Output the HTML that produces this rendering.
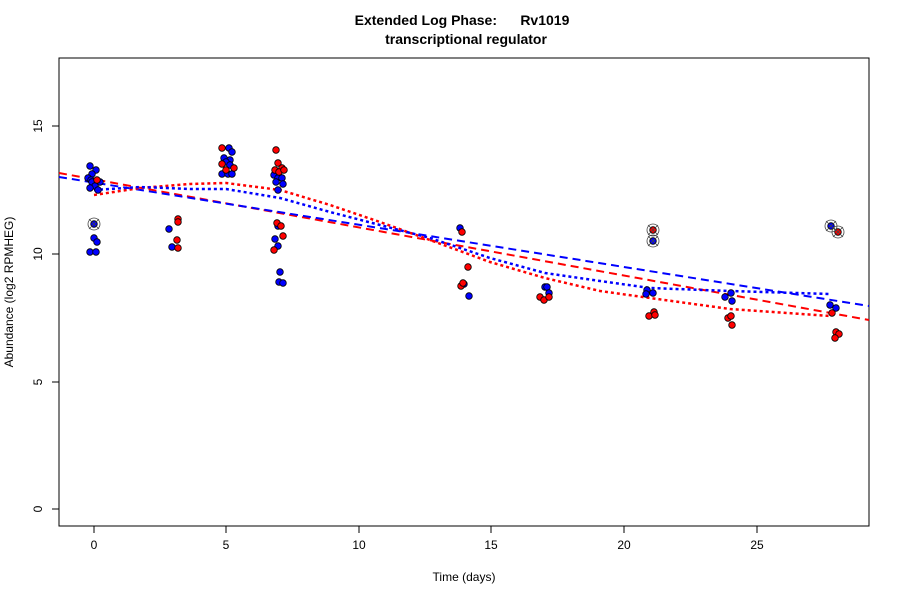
<!DOCTYPE html><html><head><style>body{margin:0;background:#fff}</style></head><body>
<svg width="900" height="600" xmlns="http://www.w3.org/2000/svg" font-family="Liberation Sans, sans-serif">
<rect width="900" height="600" fill="#fff"/>
<text x="462" y="25" text-anchor="middle" font-size="14" font-weight="bold" xml:space="preserve">Extended Log Phase:      Rv1019</text>
<text x="466" y="44" text-anchor="middle" font-size="14" font-weight="bold">transcriptional regulator</text>
<rect x="59" y="58" width="810" height="468" fill="none" stroke="#000"/>
<g stroke="#000">
<line x1="94" y1="526" x2="94" y2="533"/><line x1="226" y1="526" x2="226" y2="533"/><line x1="359" y1="526" x2="359" y2="533"/><line x1="491" y1="526" x2="491" y2="533"/><line x1="624" y1="526" x2="624" y2="533"/><line x1="757" y1="526" x2="757" y2="533"/>
<line x1="52" y1="509" x2="59" y2="509"/><line x1="52" y1="382" x2="59" y2="382"/><line x1="52" y1="254" x2="59" y2="254"/><line x1="52" y1="126" x2="59" y2="126"/>
</g>
<g font-size="12" text-anchor="middle">
<text x="94" y="549">0</text><text x="226" y="549">5</text><text x="359" y="549">10</text><text x="491" y="549">15</text><text x="624" y="549">20</text><text x="757" y="549">25</text>
<text transform="translate(42,509) rotate(-90)">0</text><text transform="translate(42,382) rotate(-90)">5</text><text transform="translate(42,254) rotate(-90)">10</text><text transform="translate(42,126) rotate(-90)">15</text>
<text x="464" y="581">Time  (days)</text>
<text transform="translate(13,292) rotate(-90)">Abundance  (log2 RPMHEG)</text>
</g>
<g stroke-width="2" fill="none">
<line x1="59" y1="173" x2="869" y2="320" stroke="#f00" stroke-dasharray="8,5"/>
<line x1="59" y1="177" x2="869" y2="306" stroke="#00f" stroke-dasharray="8,5"/>
<polyline stroke="#f00" stroke-width="2.5" stroke-dasharray="3,3" points="94,195 140,188 190,184 226,183 280,190 330,205 380,222 430,240 490,262 545,278 600,291 650,298 730,309 830,316"/>
<polyline stroke="#00f" stroke-width="2.5" stroke-dasharray="3,3" points="94,190 140,187 190,189 226,189 280,198 330,212 380,225 430,238 490,258 545,273 600,281 650,288 730,291 830,294"/>
</g>
<g stroke="#000" stroke-width="0.8">
<g fill="#00f">
<circle cx="90" cy="166" r="3.3"/><circle cx="96" cy="170" r="3.3"/><circle cx="92" cy="174" r="3.3"/><circle cx="88" cy="178" r="3.3"/><circle cx="91" cy="180" r="3.3"/><circle cx="92" cy="182" r="3.3"/><circle cx="100" cy="182" r="3.3"/><circle cx="95" cy="186" r="3.3"/><circle cx="90" cy="188" r="3.3"/><circle cx="98" cy="190" r="3.3"/>
<circle cx="94" cy="224" r="3.3"/><circle cx="94" cy="238" r="3.3"/><circle cx="97" cy="242" r="3.3"/><circle cx="90" cy="252" r="3.3"/><circle cx="96" cy="252" r="3.3"/>
<circle cx="169" cy="229" r="3.3"/><circle cx="172" cy="247" r="3.3"/>
<circle cx="229" cy="148" r="3.3"/><circle cx="232" cy="152" r="3.3"/><circle cx="224" cy="158" r="3.3"/><circle cx="230" cy="160" r="3.3"/><circle cx="226" cy="162" r="3.3"/><circle cx="230" cy="165" r="3.3"/><circle cx="222" cy="174" r="3.3"/><circle cx="228" cy="174" r="3.3"/><circle cx="232" cy="174" r="3.3"/>
<circle cx="274" cy="175" r="3.3"/><circle cx="278" cy="178" r="3.3"/><circle cx="282" cy="178" r="3.3"/><circle cx="276" cy="182" r="3.3"/><circle cx="283" cy="184" r="3.3"/><circle cx="278" cy="190" r="3.3"/><circle cx="278" cy="226" r="3.3"/><circle cx="275" cy="239" r="3.3"/><circle cx="278" cy="246" r="3.3"/><circle cx="280" cy="272" r="3.3"/><circle cx="279" cy="282" r="3.3"/><circle cx="283" cy="283" r="3.3"/>
<circle cx="460" cy="228" r="3.3"/><circle cx="464" cy="284" r="3.3"/><circle cx="469" cy="296" r="3.3"/>
<circle cx="545" cy="287" r="3.3"/><circle cx="547" cy="287" r="3.3"/><circle cx="549" cy="293" r="3.3"/>
<circle cx="653" cy="241" r="3.3"/><circle cx="647" cy="290" r="3.3"/><circle cx="646" cy="294" r="3.3"/><circle cx="653" cy="293" r="3.3"/>
<circle cx="725" cy="297" r="3.3"/><circle cx="731" cy="293" r="3.3"/><circle cx="732" cy="301" r="3.3"/>
<circle cx="831" cy="226" r="3.3"/><circle cx="830" cy="305" r="3.3"/><circle cx="836" cy="308" r="3.3"/>
</g>
<g fill="#f00">
<circle cx="97" cy="180" r="3.3"/><circle cx="178" cy="219" r="3.3"/><circle cx="178" cy="222" r="3.3"/><circle cx="177" cy="240" r="3.3"/><circle cx="178" cy="248" r="3.3"/>
<circle cx="222" cy="148" r="3.3"/><circle cx="226" cy="170" r="3.3"/><circle cx="234" cy="168" r="3.3"/><circle cx="222" cy="164" r="3.3"/>
<circle cx="276" cy="150" r="3.3"/><circle cx="278" cy="163" r="3.3"/><circle cx="282" cy="168" r="3.3"/><circle cx="275" cy="170" r="3.3"/><circle cx="279" cy="172" r="3.3"/><circle cx="284" cy="170" r="3.3"/><circle cx="277" cy="223" r="3.3"/><circle cx="281" cy="226" r="3.3"/><circle cx="283" cy="236" r="3.3"/><circle cx="274" cy="250" r="3.3"/>
<circle cx="462" cy="232" r="3.3"/><circle cx="468" cy="267" r="3.3"/><circle cx="461" cy="286" r="3.3"/><circle cx="463" cy="283" r="3.3"/>
<circle cx="540" cy="297" r="3.3"/><circle cx="544" cy="300" r="3.3"/><circle cx="549" cy="297" r="3.3"/>
<circle cx="653" cy="230" r="3.3"/><circle cx="649" cy="316" r="3.3"/><circle cx="654" cy="312" r="3.3"/><circle cx="655" cy="315" r="3.3"/>
<circle cx="728" cy="318" r="3.3"/><circle cx="731" cy="316" r="3.3"/><circle cx="732" cy="325" r="3.3"/>
<circle cx="838" cy="232" r="3.3"/><circle cx="832" cy="313" r="3.3"/><circle cx="836" cy="332" r="3.3"/><circle cx="839" cy="334" r="3.3"/><circle cx="835" cy="338" r="3.3"/>
</g>
<g fill="none" stroke="#444">
<circle cx="94" cy="224" r="6"/><circle cx="653" cy="230" r="6"/><circle cx="653" cy="241" r="6"/><circle cx="831" cy="226" r="6"/><circle cx="838" cy="232" r="6"/>
<path d="M89,219l10,10M99,219l-10,10M648,225l10,10M658,225l-10,10M648,236l10,10M658,236l-10,10M826,221l10,10M836,221l-10,10M833,227l10,10M843,227l-10,10"/>
</g>
</g>
</svg>
</body></html>
